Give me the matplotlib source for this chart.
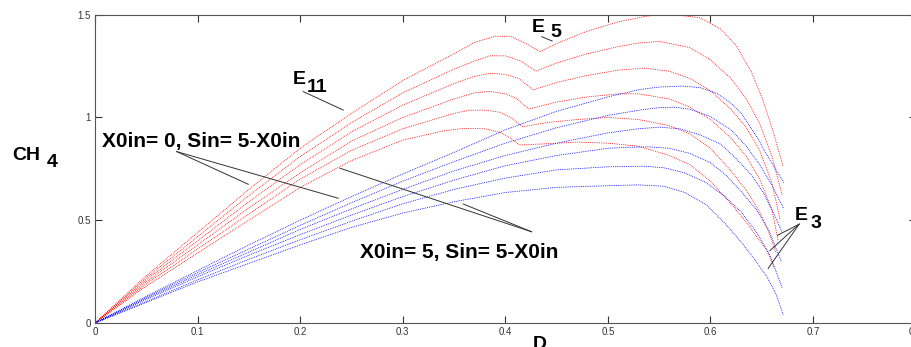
import matplotlib
matplotlib.use("Agg")
import matplotlib.pyplot as plt

plt.rcParams['font.family'] = ['Liberation Sans', 'DejaVu Sans']

# red curves (X0in = 0), top to bottom
red_x = [
    [0, .05, .1, .15, .2, .25, .3, .35, .37, .39, .405, .42, .434, .45, .48, .51, .54, .565, .59, .61, .625, .64, .65, .66, .671],
    [0, .05, .1, .15, .2, .25, .3, .35, .37, .385, .40, .415, .430, .45, .48, .51, .53, .55, .58, .60, .62, .635, .648, .66, .670],
    [0, .05, .1, .15, .2, .25, .3, .35, .37, .385, .40, .413, .427, .45, .48, .51, .535, .56, .58, .60, .62, .635, .648, .66, .668],
    [0, .05, .1, .15, .2, .25, .3, .35, .37, .385, .40, .41, .423, .45, .48, .51, .53, .56, .58, .60, .62, .635, .648, .66, .666],
    [0, .05, .1, .15, .2, .25, .3, .35, .365, .38, .395, .405, .417, .44, .47, .50, .53, .56, .58, .60, .62, .635, .648, .657, .664],
    [0, .05, .1, .15, .2, .25, .3, .34, .36, .38, .395, .405, .414, .44, .47, .50, .53, .56, .58, .60, .62, .635, .645, .655, .662],
]
red_y = [
    [0, .23, .44, .65, .85, 1.02, 1.18, 1.31, 1.365, 1.395, 1.395, 1.36, 1.32, 1.36, 1.42, 1.465, 1.495, 1.50, 1.485, 1.43, 1.35, 1.22, 1.10, .95, .76],
    [0, .22, .42, .62, .81, .975, 1.12, 1.235, 1.275, 1.30, 1.30, 1.275, 1.226, 1.265, 1.31, 1.345, 1.362, 1.37, 1.34, 1.28, 1.19, 1.09, .97, .81, .62],
    [0, .21, .40, .59, .77, .93, 1.06, 1.165, 1.20, 1.215, 1.21, 1.19, 1.134, 1.17, 1.205, 1.23, 1.24, 1.225, 1.19, 1.13, 1.04, .95, .84, .68, .50],
    [0, .20, .38, .56, .73, .885, 1.00, 1.09, 1.12, 1.127, 1.115, 1.095, 1.041, 1.075, 1.10, 1.115, 1.115, 1.09, 1.05, .99, .90, .81, .70, .55, .40],
    [0, .19, .36, .53, .70, .84, .945, 1.02, 1.035, 1.036, 1.025, 1.00, .955, .975, .99, 1.0, .99, .96, .92, .85, .74, .645, .54, .44, .34],
    [0, .18, .34, .50, .66, .79, .89, .935, .947, .945, .928, .90, .866, .872, .88, .875, .86, .815, .77, .69, .58, .49, .42, .355, .27],
]

# blue curves (X0in = 5), top to bottom
blue_rise_x = [0, .05, .1, .15, .2, .25, .3, .35, .4, .45, .5]
blue_rise_y = [
    [0, .13, .255, .38, .50, .615, .725, .83, .94, 1.03, 1.10],
    [0, .125, .245, .36, .475, .585, .69, .785, .875, .95, 1.01],
    [0, .12, .235, .345, .455, .555, .65, .74, .815, .875, .925],
    [0, .115, .225, .33, .43, .525, .615, .695, .765, .815, .85],
    [0, .105, .21, .31, .405, .495, .58, .65, .705, .745, .76],
    [0, .10, .20, .29, .38, .465, .535, .59, .635, .66, .668],
]
blue_tail_x = [
    [.53, .55, .573, .59, .606, .62, .63, .645, .658, .672],
    [.53, .55, .565, .58, .60, .62, .635, .648, .66, .671],
    [.53, .55, .57, .59, .61, .625, .64, .652, .662, .670],
    [.52, .54, .56, .58, .60, .615, .63, .645, .657, .669],
    [.535, .555, .575, .595, .613, .63, .645, .658, .670],
    [.53, .555, .575, .596, .615, .629, .643, .655, .664, .671],
]
blue_tail_y = [
    [1.135, 1.148, 1.153, 1.145, 1.118, 1.07, 1.02, .907, .793, .68],
    [1.035, 1.048, 1.05, 1.04, 1.005, .94, .86, .77, .67, .56],
    [.945, .953, .945, .915, .87, .80, .72, .63, .53, .44],
    [.855, .857, .85, .825, .78, .72, .64, .55, .45, .30],
    [.763, .755, .73, .685, .62, .54, .44, .33, .17],
    [.672, .665, .635, .575, .48, .40, .31, .225, .14, .04],
]

x_ticks = [0, 0.1, 0.2, 0.3, 0.4, 0.5, 0.6, 0.7, 0.8]
x_ticklabels = ['0', '0.1', '0.2', '0.3', '0.4', '0.5', '0.6', '0.7', '0.8']
y_ticks = [0, 0.5, 1, 1.5]
y_ticklabels = ['0', '0.5', '1', '1.5']

fig = plt.figure(figsize=(9.12, 3.47), dpi=100)
ax = fig.add_axes([95 / 912, 24 / 347, 820.6 / 912, 308.3 / 347])

for xs, ys in zip(red_x, red_y):
    ax.plot(xs, ys, linestyle=(0, (1, 1.2)), color='#ff0000', linewidth=0.6)
for ry, tx, ty in zip(blue_rise_y, blue_tail_x, blue_tail_y):
    ax.plot(blue_rise_x + tx, ry + ty, linestyle=(0, (1, 1.2)), color='#0000ff', linewidth=0.6)

ax.set_xlim(0, 0.8)
ax.set_ylim(0, 1.5)
ax.set_xticks(x_ticks)
ax.set_xticklabels(x_ticklabels)
ax.set_yticks(y_ticks)
ax.set_yticklabels(y_ticklabels)
ax.tick_params(direction='in', length=5, width=0.8, top=True, right=True,
               labelsize=7, colors='#333333', pad=3)
for sp in ax.spines.values():
    sp.set_color('#555555')
    sp.set_linewidth(0.8)

# annotations
bold = dict(fontsize=15, fontweight='bold', color='black')
ax.text(0.0068, 0.881, 'X0in= 0, Sin= 5-X0in', va='center', ha='left', **bold)
ax.plot([0.0796, 0.1494], [0.834, 0.675], color='#333333', lw=0.7)
ax.plot([0.0796, 0.2371], [0.834, 0.607], color='#333333', lw=0.7)

ax.text(0.2583, 0.341, 'X0in= 5, Sin= 5-X0in', va='center', ha='left', **bold)
ax.plot([0.4256, 0.2388], [0.444, 0.753], color='#333333', lw=0.7)
ax.plot([0.4256, 0.359], [0.444, 0.579], color='#333333', lw=0.7)

lab = dict(fontsize=14, fontweight='bold', color='black', va='baseline', ha='left')
ax.text(0.193, 1.163, 'E', **lab)
ax.text(0.2067, 1.123, '11', **lab)
ax.plot([0.2030, 0.242], [1.126, 1.036], color='#333333', lw=0.7)

ax.text(0.4259, 1.416, 'E', **lab)
ax.text(0.4444, 1.392, '5', **lab)
ax.plot([0.4354, 0.4457], [1.393, 1.372], color='#333333', lw=0.7)

ax.text(0.6822, 0.5, 'E', **lab)
ax.text(0.6979, 0.462, '3', **lab)
for ex, ey in [(0.6654, 0.4268), (0.6579, 0.3519), (0.6563, 0.2657)]:
    ax.plot([0.6865, ex], [0.481, ey], color='#333333', lw=0.7)

fig.text(12 / 912, (347 - 160) / 347, 'CH', fontsize=14, fontweight='bold', va='baseline')
fig.text(47 / 912, (347 - 167) / 347, '4', fontsize=14, fontweight='bold', va='baseline')
fig.text(533 / 912, (347 - 349) / 347, 'D', fontsize=14, fontweight='bold', va='baseline')

fig.savefig('out.png', dpi=100)
